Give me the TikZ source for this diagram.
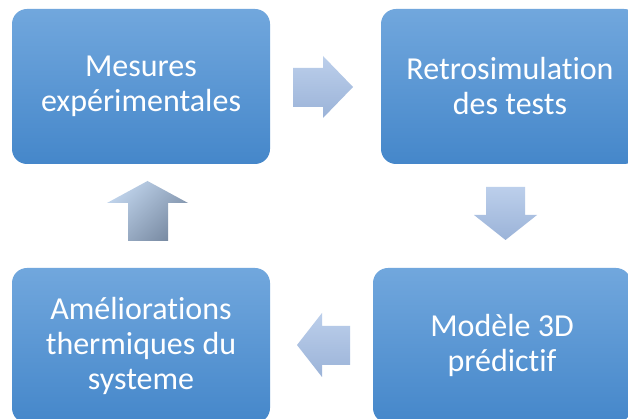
\documentclass[tikz,border=0pt]{standalone}
\usepackage{fontspec}
\setmainfont[RawFeature={-liga}]{Carlito}
\begin{document}
\begin{tikzpicture}[x=1pt,y=1pt,
  stepbox/.style={rounded corners=15pt, top color=boxtop, bottom color=boxbot,
    minimum width=258pt, minimum height=155pt, inner sep=0pt,
    text=white, align=center, font=\fontsize{32}{35}\selectfont},
  blockarrow/.style={top color=arrtop, bottom color=arrbot, draw=none},
]
\definecolor{boxtop}{RGB}{113,167,221}
\definecolor{boxbot}{RGB}{69,135,202}
\definecolor{arrtop}{RGB}{188,207,235}
\definecolor{arrbot}{RGB}{155,179,216}
\definecolor{uptop}{RGB}{192,212,236}
\definecolor{upbot}{RGB}{120,138,162}
\useasboundingbox (0,0) rectangle (628,419);
\clip (0,0) rectangle (628,419);
\fill[white] (0,0) rectangle (628,419);
% boxes
\node[stepbox] (b1) at (141,332.5) {Mesures\\exp\'erimentales};
\node[stepbox] (b2) at (510,332.5) {Retrosimulation\\des tests};
\node[stepbox] (b3) at (502,73.5) {Mod\`ele 3D\\pr\'edictif};
\node[stepbox] (b4) at (141,73.5) {Am\'eliorations\\thermiques du\\systeme};
% block arrows
\path[blockarrow] (293,351) -- (323,351) -- (323,363) -- (353,332) -- (323,301) -- (323,312) -- (293,312) -- cycle;
\path[blockarrow] (486,232) -- (525,232) -- (525,204) -- (537,204) -- (505.5,179) -- (474,204) -- (486,204) -- cycle;
\path[blockarrow] (350,93) -- (322,93) -- (322,106) -- (297,74) -- (322,42) -- (322,54) -- (350,54) -- cycle;
\path[top color=uptop, bottom color=upbot, shading angle=45] (128,178) -- (128,216) -- (107,216) -- (147.5,238) -- (188,216) -- (168,216) -- (168,178) -- cycle;
\end{tikzpicture}
\end{document}
